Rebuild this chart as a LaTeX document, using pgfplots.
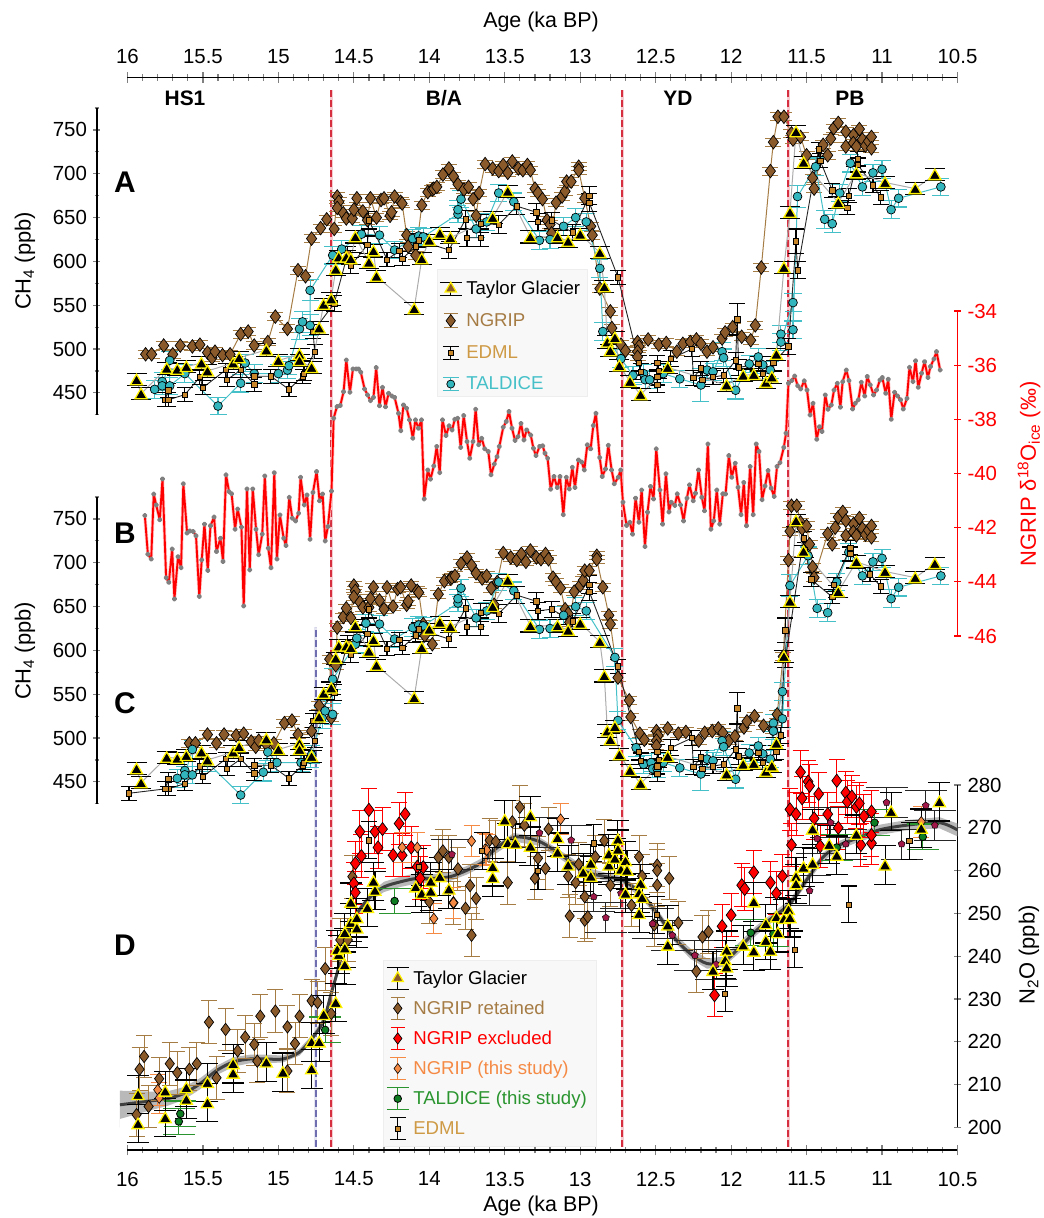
\documentclass[border=0pt]{standalone}
\usepackage{fontspec}
\setmainfont{Liberation Sans}
\usepackage{pgfplots}
\usepackage{pgfplotstable}
\pgfplotsset{compat=1.18}
\usetikzlibrary{plotmarks}
\definecolor{ngb}{HTML}{8B5A2B}
\definecolor{ngl}{HTML}{A67C45}
\definecolor{edf}{HTML}{C8872A}
\definecolor{edt}{HTML}{CE9A45}
\definecolor{taf}{HTML}{33B5BE}
\definecolor{tal}{HTML}{45C0C8}
\definecolor{orf}{HTML}{F58A45}
\definecolor{grf}{HTML}{0E7D22}
\definecolor{grl}{HTML}{2A952F}
\definecolor{sta}{HTML}{A01848}
\definecolor{vred}{HTML}{D63040}
\definecolor{vblu}{HTML}{6E6EB0}
\definecolor{legbg}{HTML}{F8F8F8}
\definecolor{legbd}{HTML}{EEEEEE}

\pgfplotstableread{
a v
15.94 465
15.91 449
15.74 478
15.67 477
15.61 480
15.51 484
15.47 475
15.30 484
15.26 490
15.08 499
15.00 487
14.86 494
14.86 487
14.78 479
14.73 524
14.70 551
14.65 557
14.62 591
14.60 605
14.55 605
14.52 603
14.49 628
14.40 599
14.37 612
14.35 583
14.10 546
14.05 603
14.00 624
13.93 632
13.86 627
13.58 650
13.48 680
13.33 628
13.15 628
13.08 623
13.00 631
12.87 610
12.84 571
12.82 508
12.80 498
12.77 513
12.74 481
12.67 463
12.60 448
12.42 479
12.03 459
11.92 470
11.85 471
11.77 462
11.73 468
11.70 494
11.65 593
11.61 656
11.57 748
11.52 713
11.29 667
11.17 701
10.98 690
10.78 683
10.65 699
}\tabT

\pgfplotstableread{
a v s
15.88 494 .29
15.84 494 .29
15.76 504 .29
15.70 494 .29
15.65 504 .29
15.57 503 .29
15.52 505 .29
15.47 496 .29
15.44 490 .29
15.42 497 .29
15.37 493 .29
15.32 494 .29
15.25 517 .29
15.20 520 .29
15.16 504 .29
15.07 508 .29
15.02 537 .29
14.94 523 .29
14.87 590 .21
14.82 583 .20
14.78 626 .17
14.72 638 .15
14.68 648 .13
14.63 637 .11
14.61 674 .11
14.60 668 .11
14.61 661 .11
14.57 655 .11
14.55 649 .11
14.51 649 .11
14.50 659 .11
14.48 672 .11
14.44 657 .11
14.41 647 .11
14.39 672 .11
14.35 650 .11
14.32 670 .11
14.30 672 .11
14.26 652 .11
14.25 656 .11
14.23 674 .11
14.19 668 .11
14.18 666 .11
14.15 630 .11
14.14 617 .11
14.09 607 .11
14.05 664 .11
14.01 679 .11
13.98 682 .12
13.97 683 .12
13.95 685 .12
13.91 699 .12
13.87 706 .12
13.84 697 .12
13.81 688 .12
13.77 682 .12
13.74 685 .12
13.71 671 .12
13.69 652 .12
13.67 678 .12
13.63 711 .12
13.58 706 .12
13.54 703 .12
13.51 710 .12
13.48 701 .12
13.45 714 .12
13.41 706 .12
13.38 704 .12
13.35 710 .12
13.33 704 .12
13.30 683 .12
13.28 678 .12
13.25 671 .12
13.22 647 .12
13.20 642 .12
13.19 632 .12
13.16 667 .12
13.12 674 .12
13.10 680 .12
13.09 691 .12
13.06 691 .12
13.01 708 .12
13.01 704 .12
12.97 672 .12
12.93 640 .12
12.92 630 .12
12.87 569 .12
12.80 543 .125
12.79 524 .125
12.73 505 .125
12.70 498 .125
12.62 508 .125
12.61 503 .125
12.62 497 .125
12.62 491 .125
12.55 511 .13
12.48 505 .13
12.43 507 .13
12.36 497 .145
12.32 506 .145
12.27 508 .145
12.23 511 .145
12.20 506 .145
12.16 497 .145
12.12 502 .145
12.06 512 .145
12.04 519 .145
11.99 525 .145
11.93 514 .145
11.87 510 .145
11.84 527 .145
11.80 593 .145
11.74 703 .12
11.72 736 .11
11.69 765 .09
11.65 765 .085
11.60 746 .06
11.59 739 .06
11.54 742 .04
11.50 721 .02
11.46 695 0
11.45 683 0
11.39 733 .03
11.36 721 .03
11.34 740 .03
11.32 752 .03
11.29 758 .03
11.24 748 0
11.24 731 0
11.19 744 0
11.19 735 0
11.17 731 0
11.15 751 0
11.13 739 0
11.11 732 0
11.09 737 0
11.07 742 0
11.07 729 0
}\tabN

\pgfplotstableread{
a v s e
15.75 442 0 8
15.73 453 0 8
15.73 442 0 8
15.62 448 0 8
15.52 468 0 8
15.50 456 0 8
15.35 476 0 8
15.34 465 0 8
15.25 476 0 8
15.16 460 0 8
15.16 469 0 8
15.05 469 0 8
14.93 454 0 8
14.84 469 0 8
14.83 472 0 8
14.76 497 0 8
14.77 520 0 8
14.63 552 0 9
14.54 609 0 8
14.52 595 0 9
14.41 619 0 10
14.40 647 0 10
14.28 602 0 8
14.20 612 0 8
14.18 603 0 8
14.09 617 0 8
14.07 624 0 8
13.87 613 0 10
13.76 648 0 10
13.75 627 0 10
13.66 627 0 10
13.66 643 0 10
13.54 642 0 10
13.42 663 0 10
13.29 656 0 10
13.28 645 0 10
13.19 647 0 9
13.05 633 0 9
12.94 675 0 10
12.94 667 0 10
12.75 582 0 8
12.61 484 0 9
12.60 474 0 9
12.49 459 0 9
12.49 484 0 9
12.48 475 0 9
12.49 468 0 9
12.40 489 0 9
12.26 500 0 9
12.25 467 0 9
12.20 478 0 8
12.19 465 0 8
12.12 468 0 8
12.05 470 0 8
11.97 487 0 9
11.96 534 0 18
11.95 479 0 9
11.82 483 0 8
11.79 472 0 8
11.72 484 .02 8
11.62 503 -.05 9
11.57 623 -.07 14
11.56 590 -.08 10
11.42 728 -.1 8
11.41 715 -.1 8
11.33 681 -.14 8
11.23 661 -.1 8
11.22 675 -.1 8
11.16 717 -.05 8
11.16 710 -.05 8
11.06 687 -.02 8
11.01 673 0 8
}\tabE

\pgfplotstableread{
a v s e
15.82 454 .15 10
15.77 463 .15 10
15.77 458 .15 10
15.72 487 .15 10
15.72 458 .15 10
15.62 472 .15 10
15.40 435 .15 10
15.25 461 .15 10
15.22 484 .15 10
15.16 472 .15 10
15.00 472 .15 10
14.94 476 .15 10
14.93 481 .15 10
14.86 523 .15 12
14.84 531 .15 12
14.79 527 .15 12
14.79 567 .15 12
14.64 607 .15 10
14.58 614 .10 10
14.45 631 .03 10
14.33 630 0 10
14.23 613 0 10
14.11 626 0 10
14.07 629 0 10
14.04 628 0 10
13.81 654 0 10
13.81 659 0 10
13.79 671 0 10
13.69 637 0 10
13.62 645 0 10
13.54 678 0 10
13.44 668 0 10
13.27 624 0 10
13.20 625 0 10
13.11 640 0 10
13.03 650 0 10
12.96 645 0 10
12.87 592 .1 10
12.85 520 .1 10
12.73 489 .1 10
12.65 470 .07 10
12.58 472 .05 10
12.57 465 .05 10
12.54 465 .05 10
12.45 472 0 10
12.34 466 0 10
12.20 459 0 19
12.16 476 0 10
12.12 474 0 10
12.06 497 0 10
12.05 490 0 10
11.97 453 0 10
11.88 483 0 10
11.82 491 0 10
11.79 482 0 10
11.74 476 0 10
11.67 517 -.05 10
11.67 508 -.05 10
11.59 553 -.07 10
11.59 522 -.07 10
11.56 674 -.05 13
11.44 708 -.05 10
11.38 648 -.05 10
11.33 643 -.03 10
11.28 678 -.02 10
11.21 712 -.01 10
11.13 685 0 10
11.06 701 0 10
11.00 705 0 10
10.94 659 0 10
10.89 672 0 10
10.61 685 0 10
}\tabD

\pgfplotstableread{
a d
15.885 -41.55
15.865 -42.98
15.843 -43.16
15.826 -40.76
15.81 -41.16
15.786 -41.71
15.768 -40.2
15.744 -43.85
15.726 -44.02
15.704 -42.79
15.689 -44.63
15.665 -43.07
15.645 -43.48
15.63 -40.38
15.605 -42.2
15.587 -42.12
15.565 -42.14
15.546 -42.3
15.524 -44.54
15.508 -43.19
15.49 -41.87
15.468 -43.58
15.45 -41.93
15.426 -41.61
15.41 -42.88
15.384 -42.39
15.367 -43.25
15.347 -40.05
15.327 -40.67
15.31 -40.75
15.287 -42.06
15.27 -41.31
15.245 -41.98
15.23 -44.89
15.208 -40.57
15.19 -43.56
15.17 -40.57
15.148 -42.06
15.131 -43.0
15.107 -42.24
15.09 -40.09
15.067 -42.76
15.049 -43.48
15.027 -39.97
15.01 -43.16
14.99 -41.53
14.965 -42.39
14.95 -42.66
14.928 -40.88
14.908 -41.65
14.886 -41.75
14.866 -41.47
14.853 -40.14
14.829 -41.16
14.81 -40.79
14.79 -42.43
14.771 -40.7
14.747 -39.93
14.727 -41.01
14.707 -40.76
14.69 -42.49
14.672 -41.96
14.648 -40.65
14.634 -37.96
14.612 -37.53
14.59 -37.49
14.568 -36.98
14.55 -35.81
14.526 -37.0
14.506 -36.14
14.484 -36.14
14.469 -36.14
14.454 -36.26
14.429 -36.88
14.409 -37.1
14.39 -37.31
14.37 -37.19
14.352 -36.09
14.33 -37.5
14.31 -36.82
14.29 -37.54
14.27 -37.04
14.248 -37.14
14.23 -37.19
14.204 -37.78
14.189 -38.42
14.171 -37.47
14.151 -37.59
14.131 -38.02
14.109 -38.7
14.092 -38.02
14.072 -38.33
14.052 -38.02
14.034 -40.94
14.01 -39.87
13.992 -40.21
13.97 -39.72
13.951 -39.0
13.931 -39.97
13.913 -38.02
13.889 -38.6
13.869 -38.24
13.849 -38.39
13.831 -38.0
13.812 -37.96
13.792 -39.04
13.772 -37.86
13.75 -38.82
13.732 -39.44
13.71 -38.82
13.693 -37.63
13.673 -38.94
13.653 -38.7
13.633 -39.09
13.609 -39.19
13.591 -40.05
13.569 -39.65
13.551 -39.38
13.536 -39.0
13.51 -38.29
13.49 -38.08
13.472 -37.71
13.452 -38.33
13.432 -38.78
13.412 -38.64
13.392 -38.15
13.373 -38.76
13.355 -38.39
13.328 -38.58
13.31 -39.07
13.293 -39.34
13.269 -39.0
13.249 -38.98
13.234 -39.25
13.216 -39.44
13.196 -40.58
13.174 -40.11
13.152 -40.52
13.134 -40.11
13.112 -41.52
13.092 -40.14
13.072 -40.57
13.052 -39.77
13.035 -40.52
13.012 -39.5
12.99 -39.58
12.973 -39.87
12.953 -38.94
12.931 -39.09
12.913 -38.23
12.896 -37.78
12.871 -39.41
12.854 -40.11
12.832 -39.83
12.814 -38.96
12.792 -39.87
12.774 -40.38
12.748 -40.14
12.732 -39.87
12.717 -41.06
12.693 -41.92
12.671 -41.8
12.653 -42.24
12.633 -40.91
12.611 -41.8
12.593 -40.61
12.571 -42.7
12.554 -41.43
12.534 -40.48
12.514 -40.94
12.496 -39.09
12.472 -40.61
12.454 -41.87
12.432 -40.01
12.412 -41.42
12.397 -41.06
12.373 -41.18
12.357 -40.75
12.335 -41.16
12.315 -41.75
12.293 -40.91
12.276 -40.42
12.251 -41.01
12.236 -40.73
12.216 -39.87
12.194 -40.88
12.176 -41.38
12.154 -38.91
12.134 -42.06
12.115 -41.75
12.095 -40.61
12.075 -41.87
12.055 -40.75
12.037 -40.76
12.015 -39.34
11.996 -40.14
11.973 -39.62
11.954 -40.51
11.934 -41.52
11.916 -40.33
11.898 -41.93
11.874 -39.74
11.854 -41.52
11.834 -38.91
11.815 -39.19
11.795 -40.97
11.775 -40.46
11.755 -39.89
11.735 -40.54
11.715 -40.85
11.696 -39.74
11.676 -39.6
11.651 -39.04
11.636 -38.51
11.62 -36.67
11.598 -36.57
11.579 -36.4
11.559 -36.76
11.539 -36.88
11.515 -36.58
11.497 -36.92
11.477 -37.84
11.457 -37.41
11.433 -38.74
11.415 -38.27
11.398 -38.45
11.376 -37.1
11.358 -37.63
11.336 -37.47
11.318 -36.92
11.296 -36.67
11.276 -37.55
11.261 -36.61
11.237 -36.18
11.219 -36.57
11.195 -37.62
11.177 -37.41
11.157 -37.28
11.137 -36.63
11.115 -37.14
11.098 -36.42
11.078 -36.73
11.056 -37.1
11.036 -36.92
11.014 -36.55
10.998 -36.46
10.976 -37.04
10.959 -36.52
10.939 -38.0
10.917 -37.0
10.897 -37.14
10.877 -37.28
10.859 -37.62
10.835 -37.23
10.818 -36.08
10.795 -36.61
10.778 -35.84
10.76 -36.82
10.738 -36.3
10.718 -35.87
10.696 -36.46
10.679 -36.05
10.656 -35.77
10.639 -35.5
10.615 -36.18
}\tabO

\pgfplotstableread{
a m
16.05 205.3
15.85 206.2
15.74 206.7
15.63 207.9
15.52 210.2
15.41 213.3
15.30 215.3
15.19 216.0
15.08 216.0
14.97 216.0
14.86 217.6
14.77 221.1
14.70 225.0
14.65 231.3
14.60 237.5
14.55 244.5
14.48 250.0
14.39 253.9
14.30 256.2
14.19 257.4
14.08 258.2
13.97 258.2
13.86 258.6
13.75 260.1
13.64 262.1
13.58 264.5
13.44 267.8
13.27 266.8
13.11 263.2
12.96 259.7
12.83 258.6
12.72 257.8
12.60 254.7
12.49 250.0
12.38 244.5
12.27 240.6
12.16 238.3
12.05 238.7
11.94 242.2
11.83 246.1
11.72 249.2
11.61 252.3
11.50 257.8
11.39 263.2
11.28 266.0
11.17 267.5
11.02 269.5
10.84 270.6
10.62 271.2
10.50 269.5
}\tabS

% outline of the grey uncertainty band: upper edge forward, lower edge back
\pgfplotstableread{
a b
16.05 208.6
15.85 208.4
15.74 208.4
15.63 209.4
15.52 211.5
15.41 214.4
15.30 216.4
15.19 217.0
15.08 217.0
14.97 216.8
14.86 218.4
14.77 221.9
14.70 225.8
14.65 232.1
14.60 238.3
14.55 245.3
14.48 250.8
14.39 254.9
14.30 257.4
14.19 258.6
14.08 259.4
13.97 259.2
13.86 259.6
13.75 261.1
13.64 263.1
13.58 265.5
13.44 268.8
13.27 267.8
13.11 264.2
12.96 260.7
12.83 259.5
12.72 258.7
12.60 255.6
12.49 251.0
12.38 245.5
12.27 241.8
12.16 239.5
12.05 239.9
11.94 243.4
11.83 247.2
11.72 250.2
11.61 253.3
11.50 258.8
11.39 264.2
11.28 267.0
11.17 268.5
11.02 270.7
10.84 271.8
10.62 272.5
10.50 271.0
10.50 268.0
10.62 269.9
10.84 269.4
11.02 268.3
11.17 266.5
11.28 265.0
11.39 262.2
11.50 256.8
11.61 251.3
11.72 248.2
11.83 245.0
11.94 241.0
12.05 237.5
12.16 237.1
12.27 239.4
12.38 243.5
12.49 249.0
12.60 253.8
12.72 256.9
12.83 257.7
12.96 258.7
13.11 262.2
13.27 265.8
13.44 266.8
13.58 263.5
13.64 261.1
13.75 259.1
13.86 257.6
13.97 257.2
14.08 257.0
14.19 256.2
14.30 255.0
14.39 252.9
14.48 249.2
14.55 243.7
14.60 236.7
14.65 230.5
14.70 224.2
14.77 220.3
14.86 216.8
14.97 215.2
15.08 215.0
15.19 215.0
15.30 214.2
15.41 212.2
15.52 208.9
15.63 206.4
15.74 205.0
15.85 204.0
16.05 202.0
}\tabBand

\pgfplotstableread{
a v
15.93 200.9
15.93 207.7
15.75 202.3
15.75 208.5
15.61 209.3
15.61 206.6
15.47 210.5
15.47 205.8
15.30 212.7
15.30 214.9
15.08 215.3
14.97 212.9
14.78 213.7
14.78 220.0
14.73 220.0
14.70 226.4
14.62 229.2
14.56 238.0
14.60 240.4
14.61 241.6
14.56 241.9
14.56 245.5
14.52 247.9
14.48 246.6
14.48 249.0
14.41 251.4
14.52 252.6
14.36 255.4
14.37 257.5
14.09 256.2
14.05 254.7
13.99 255.2
13.99 257.5
13.93 258.6
13.87 255.7
13.58 258.4
13.58 260.9
13.50 271.8
13.48 266.5
13.43 266.4
13.33 265.7
13.33 272.8
13.15 267.7
13.15 264.3
13.08 261.3
12.98 259.6
12.93 261.7
12.93 258.7
12.81 263.9
12.81 261.3
12.77 262.9
12.75 267.3
12.75 265.0
12.73 260.3
12.70 262.3
12.69 260.1
12.70 254.7
12.60 257.0
12.61 254.8
12.59 253.7
12.61 250.0
12.42 247.3
12.42 242.6
12.12 236.7
12.03 241.4
12.04 239.2
12.03 237.5
11.92 242.6
11.85 252.7
11.85 241.2
11.77 247.6
11.77 243.7
11.74 241.4
11.70 249.2
11.69 245.5
11.65 248.8
11.62 250.9
11.61 249.0
11.57 258.6
11.57 256.9
11.52 260.8
11.46 261.7
11.46 269.7
11.35 266.1
11.30 263.6
11.17 268.5
10.98 261.3
10.94 273.8
10.74 269.9
10.62 276.1
}\tabTd

\pgfplotstableread{
a v
15.92 213.6
15.89 216.6
15.94 203.0
15.86 204.9
15.79 211.4
15.72 214.9
15.67 212.8
15.59 213.6
15.54 214.9
15.46 224.6
15.41 211.6
15.35 222.9
15.27 217.9
15.22 221.1
15.16 219.4
15.14 215.5
15.12 226.0
15.02 227.2
14.94 223.5
14.86 226.0
14.89 219.6
14.94 213.2
14.78 229.6
14.74 229.2
14.69 237.1
14.65 226.6
14.59 243.8
14.54 243.8
14.51 258.6
13.94 263.1
13.91 264.6
13.87 263.1
13.81 260.4
13.73 256.5
13.69 253.5
13.76 251.2
13.72 244.9
13.84 252.5
14.00 252.7
13.60 267.1
13.56 266.8
13.45 271.4
13.40 274.8
13.37 270.6
13.21 269.7
13.48 257.2
13.28 262.9
13.30 258.2
13.23 260.5
13.01 261.5
13.08 258.7
13.03 257.2
12.97 253.9
12.90 263.2
12.84 267.0
13.07 249.4
12.97 248.4
12.95 249.2
12.80 256.6
12.61 263.2
12.59 258.7
12.49 261.3
12.49 260.0
12.41 258.2
12.49 256.6
12.66 251.9
12.51 247.3
12.35 247.8
12.23 236.5
12.19 244.5
12.15 245.7
}\tabNr

\pgfplotstableread{
a v
14.40 274.2
14.46 269.1
14.36 269.1
14.31 269.7
14.34 265.4
14.45 263.4
14.49 261.7
14.50 257.0
14.49 254.9
14.20 271.0
14.16 273.2
14.24 263.6
14.18 263.6
14.12 265.4
14.08 260.9
14.04 260.8
14.06 258.2
12.11 230.9
12.06 247.0
12.00 249.6
11.93 256.6
11.91 255.7
11.85 259.6
11.74 257.2
11.66 258.7
11.70 254.7
11.61 274.3
11.57 273.2
11.60 266.0
11.54 283.0
11.49 280.8
11.48 279.8
11.53 276.9
11.42 277.9
11.45 272.2
11.36 273.2
11.30 281.0
11.29 270.0
11.41 265.7
11.24 278.2
11.23 276.1
11.20 277.3
11.17 274.9
11.15 275.7
11.12 272.7
11.07 273.8
11.14 266.0
11.07 266.4
11.07 268.3
}\tabNx

\pgfplotstableread{
a v
15.80 208.8
15.79 206.9
14.18 265.4
14.08 265.4
13.72 266.9
13.97 248.8
13.84 252.5
13.63 265.0
13.62 264.8
13.13 272.0
10.74 271.4
}\tabNo

\pgfplotstableread{
a v
15.65 203.2
15.66 201.4
14.69 222.8
14.23 252.9
11.87 245.5
11.72 245.2
11.30 265.4
11.05 271.2
10.73 267.9
}\tabGr

\pgfplotstableread{
a v
14.40 267.1
14.07 260.9
13.65 264.6
13.28 259.9
12.91 266.4
12.49 249.6
12.04 231.3
11.58 241.6
11.22 252.1
10.82 266.9
}\tabEd

\pgfplotstableread{
a v
13.85 263.8
13.27 268.8
13.06 267.1
12.91 253.9
12.83 249.0
12.73 254.7
12.52 247.6
12.39 244.9
12.24 240.2
12.10 238.1
11.48 255.3
11.43 267.5
11.34 271.2
11.24 266.2
10.97 275.9
10.87 266.2
10.71 275.2
10.65 270.6
}\tabSt

\pgfplotsset{
  base/.style={scale only axis, anchor=south west, clip=false,
    /pgf/number format/assume math mode=true,
    /pgf/number format/fixed,
    ticklabel style={font=\fontsize{20.5}{20.5}\selectfont},
    every tick/.append style={line width=1.2bp},
    axis line style={line width=1.2bp},
    every non boxed x axis/.append style={x axis line style=-},
    every non boxed y axis/.append style={y axis line style=-},
    tick align=outside, major tick length=7bp, minor tick length=4.5bp},
  ebar/.style n args={3}{error bars/y dir=both, error bars/y explicit,
    error bars/error bar style={#1,line width=#3,solid},
    error bars/error mark options={#1,rotate=90,mark size=#2,line width=#3,solid}},
  tayl/.style={gray!65,line width=1bp,mark=triangle*,mark size=7bp,
    mark options={fill=black,draw=yellow,line width=1.3bp,solid,yshift=-1.5bp},ebar={black}{10bp}{1.1bp}},
  ngr/.style={ngl,line width=1bp,mark=diamond*,mark size=6.8bp,
    mark options={fill=ngb,draw=black,line width=.7bp,solid},ebar={ngl}{8bp}{1bp}},
  edm/.style={black!85,line width=.9bp,mark=square*,mark size=2.7bp,
    mark options={fill=edf,draw=black,line width=.6bp,solid},ebar={black}{8bp}{1.1bp}},
  tld/.style={tal,line width=1bp,mark=*,mark size=4.4bp,
    mark options={fill=taf,draw=black,line width=.7bp,solid},ebar={tal}{8.5bp}{1.1bp}},
  chaxis/.style={base,width=860.5bp,height=306.8bp,xmin=10.5,xmax=16.202,x dir=reverse,
    ymin=425,ymax=775,axis y line=left,axis x line=none,
    yticklabel style={xshift=-3bp},
    ytick={450,500,...,750},minor ytick={425,475,...,775}},
  agex/.style={base,width=830bp,height=100bp,xmin=10.5,xmax=16,x dir=reverse,ymin=0,ymax=1,axis y line=none,
    xtick={16,15.5,15,14.5,14,13.5,13,12.5,12,11.5,11,10.5},minor x tick num=4,
    major tick length=10.5bp,minor tick length=6.5bp},
  legax/.style={scale only axis,anchor=south west,width=10bp,height=10bp,hide axis,xmin=0,xmax=1,ymin=0,ymax=1,
    legend cell align=left,
    legend style={at={(0,0)},anchor=north west,draw=none,fill=none,inner sep=0pt,row sep=17bp,
      nodes={inner sep=0pt},font=\fontsize{18.7}{18.7}\selectfont,
      /tikz/every even column/.append style={column sep=6bp}}},
}

% legend key: colour of error bar, half cap, half height, mark options
\newcommand\legkey[6]{%
  \addlegendimage{legend image code/.code={%
    \draw[#1,line width=1.1bp] (-#2,-#3)--(#2,-#3) (-#2,#3)--(#2,#3) (0,-#3)--(0,#3);
    \draw[draw=none,mark=#4,mark size=#5,mark options={#6}] plot coordinates {(0,0)};
  }}}
\newcommand\lt{\hspace*{4bp}\strut}

\newcommand\chfour[2]{%
\begin{axis}[chaxis,at={(97bp,#1bp)}]
\addplot[ngr] table[x expr=\thisrow{a}-#2*\thisrow{s},y=v,y error expr=4.5]{\tabN};
\addplot[tld] table[x expr=\thisrow{a}-#2*\thisrow{s},y=v,y error=e]{\tabD};
\addplot[edm] table[x expr=\thisrow{a}-#2*\thisrow{s},y=v,y error=e]{\tabE};
\addplot[tayl] table[x=a,y=v,y error expr=7]{\tabT};
\end{axis}}

\begin{document}
\begin{tikzpicture}[x=1bp,y=1bp]
\path[use as bounding box] (0,0) rectangle (1044bp,1218bp);

% age axes and period boundaries
\begin{axis}[agex,at={(127.5bp,68bp)},axis x line=bottom,xticklabel style={yshift=-13bp}]
\end{axis}
\begin{axis}[agex,at={(127.5bp,1040.3bp)},axis x line=top,xticklabel style={yshift=5bp}]
\end{axis}
\begin{axis}[scale only axis,anchor=south west,at={(127.5bp,68bp)},width=830bp,height=1072bp,hide axis,clip=false,
  xmin=10.5,xmax=16,x dir=reverse,ymin=0,ymax=1072]
\addplot[vblu!18,line width=3bp] coordinates {(14.751,3)(14.751,523)};
\addplot[vblu,line width=1.4bp,dash pattern=on 7bp off 3bp] coordinates {(14.751,3)(14.751,523)};
\addplot[vred!25,line width=3bp] coordinates {(14.651,3)(14.651,1060)};
\addplot[vred,line width=1.4bp,dash pattern=on 7bp off 3bp] coordinates {(14.651,3)(14.651,1060)};
\addplot[vred!25,line width=3bp] coordinates {(12.723,3)(12.723,1060)};
\addplot[vred,line width=1.4bp,dash pattern=on 7bp off 3bp] coordinates {(12.723,3)(12.723,1060)};
\addplot[vred!25,line width=3bp] coordinates {(11.623,3)(11.623,1060)};
\addplot[vred,line width=1.4bp,dash pattern=on 7bp off 3bp] coordinates {(11.623,3)(11.623,1060)};
\end{axis}

% panel B
\begin{axis}[base,at={(127.5bp,582bp)},width=830bp,height=325bp,xmin=10.5,xmax=16,x dir=reverse,
  ymin=-46,ymax=-34,axis y line=right,axis x line=none,ytick={-46,-44,...,-34},
  y axis line style={red},ytick style={red},yticklabel style={red,xshift=3bp}]
\addplot[red!22,line width=3.4bp,line join=round] table[x=a,y=d]{\tabO};
\addplot[red,line width=1.9bp,line join=round,mark=*,mark size=1.7bp,mark options={fill=gray,draw=gray}] table[x=a,y=d]{\tabO};
\end{axis}

% panels A and C
\chfour{803.2}{0}
\chfour{414.2}{1}
\begin{axis}[scale only axis,anchor=south west,at={(97bp,414.2bp)},width=860.5bp,height=306.8bp,hide axis,clip=false,
  xmin=10.5,xmax=16.202,x dir=reverse,ymin=425,ymax=775]
\addplot[edm] table[x=a,y=v,y error expr=8]{
a v
15.99 437
15.75 442
};
\end{axis}

% panel D
\begin{axis}[base,at={(127.5bp,90.5bp)},width=830bp,height=342.5bp,xmin=10.5,xmax=16,x dir=reverse,
  ymin=200,ymax=280,axis y line=right,axis x line=none,ytick={200,210,...,280},yticklabel style={xshift=3bp}]
\addplot[fill=gray!55,draw=none] table[x=a,y=b]{\tabBand} \closedcycle;
\addplot[black!75,line width=3bp,smooth] table[x=a,y=m]{\tabS};
\addplot[ngr,only marks,mark size=6.2bp] table[x=a,y=v,y error expr=5]{\tabNr};
\addplot[only marks,mark=diamond*,mark size=6.6bp,mark options={fill=red,draw=black,line width=.7bp,solid},ebar={red}{8bp}{1bp}] table[x=a,y=v,y error expr=5]{\tabNx};
\addplot[only marks,mark=diamond*,mark size=5.4bp,mark options={fill=orf,draw=black,line width=.6bp,solid},ebar={orf}{8bp}{1bp}] table[x=a,y=v,y error expr=3.6]{\tabNo};
\addplot[only marks,mark=pentagon*,mark size=3.6bp,mark options={fill=sta,draw=black,line width=.5bp,solid},ebar={black!85}{21bp}{1bp}] table[x=a,y=v,y error expr=3.5]{\tabSt};
\addplot[only marks,mark=*,mark size=3.8bp,mark options={fill=grf,draw=black,line width=.8bp,solid},ebar={grl}{16bp}{1.1bp}] table[x=a,y=v,y error expr=3]{\tabGr};
\addplot[only marks,mark=square*,mark size=2.6bp,mark options={fill=edf,draw=black,line width=.6bp,solid},ebar={black}{8bp}{1.1bp}] table[x=a,y=v,y error expr=4.3]{\tabEd};
\addplot[only marks,mark=triangle*,mark size=7bp,mark options={fill=black,draw=yellow,line width=1.3bp,solid,yshift=-1.5bp},ebar={black}{11bp}{1.1bp}] table[x=a,y=v,y error expr=4.5]{\tabTd};
\end{axis}

% legend A
\fill[legbg,draw=legbd,line width=.8bp] (437,822) rectangle (587,949);
\begin{axis}[legax,at={(439bp,937bp)}]
\legkey{black}{11bp}{6.5bp}{triangle*}{6.5bp}{fill=ngb,draw=yellow,line width=1.2bp}
\addlegendentry{\lt Taylor Glacier}
\legkey{ngl}{7bp}{7bp}{diamond*}{6.2bp}{fill=ngb,draw=black,line width=.7bp}
\addlegendentry{\lt\textcolor{ngl}{NGRIP}}
\legkey{black}{8bp}{6.5bp}{square*}{2.7bp}{fill=edf,draw=black,line width=.6bp}
\addlegendentry{\lt\textcolor{edt}{EDML}}
\legkey{tal}{8bp}{6.5bp}{*}{4bp}{fill=taf,draw=black,line width=.7bp}
\addlegendentry{\lt\textcolor{tal}{TALDICE}}
\end{axis}

% legend D
\fill[legbg,draw=legbd,line width=.8bp] (383,72) rectangle (596,258);
\begin{axis}[legax,at={(386bp,251.5bp)},legend style={row sep=7bp}]
\legkey{black}{11bp}{11bp}{triangle*}{6.5bp}{fill=ngb,draw=yellow,line width=1.2bp}
\addlegendentry{\lt Taylor Glacier}
\legkey{ngl}{7bp}{11bp}{diamond*}{5.6bp}{fill=ngb,draw=black,line width=.7bp}
\addlegendentry{\lt\textcolor{ngl}{NGRIP retained}}
\legkey{red}{7bp}{11bp}{diamond*}{5.6bp}{fill=red,draw=black,line width=.7bp}
\addlegendentry{\lt\textcolor{red}{NGRIP excluded}}
\legkey{orf}{8bp}{11bp}{diamond*}{5bp}{fill=orf,draw=black,line width=.6bp}
\addlegendentry{\lt\textcolor{orf}{NGRIP (this study)}}
\legkey{grl}{11bp}{11bp}{*}{3.8bp}{fill=grf,draw=black,line width=.8bp}
\addlegendentry{\lt\textcolor{grl}{TALDICE (this study)}}
\legkey{black}{8bp}{11bp}{square*}{2.4bp}{fill=edf,draw=black,line width=.6bp}
\addlegendentry{\lt\textcolor{edt}{EDML}}
\end{axis}

% text
\tikzset{big/.style={font=\fontsize{30}{30}\selectfont\bfseries},per/.style={font=\fontsize{21}{21}\selectfont\bfseries},
  lab/.style={font=\fontsize{22}{22}\selectfont,rotate=90}}
\node[big] at (125,1036) {A};
\node[big] at (125,685) {B};
\node[big] at (125,515) {C};
\node[big] at (125,273) {D};
\node[per] at (185,1120) {HS1};
\node[per] at (444,1120) {B/A};
\node[per] at (678,1120) {YD};
\node[per] at (850,1120) {PB};
\node[font=\fontsize{21.5}{21.5}\selectfont] at (541,1196) {Age (ka BP)};
\node[font=\fontsize{21.5}{21.5}\selectfont] at (541,12) {Age (ka BP)};
\node[lab] at (25,957) {CH\textsubscript{4} (ppb)};
\node[lab] at (25,567) {CH\textsubscript{4} (ppb)};
\node[lab,red] at (1029,744) {NGRIP δ\textsuperscript{18}O\textsubscript{ice} (‰)};
\node[lab] at (1029,263) {N\textsubscript{2}O (ppb)};
\end{tikzpicture}
\end{document}
